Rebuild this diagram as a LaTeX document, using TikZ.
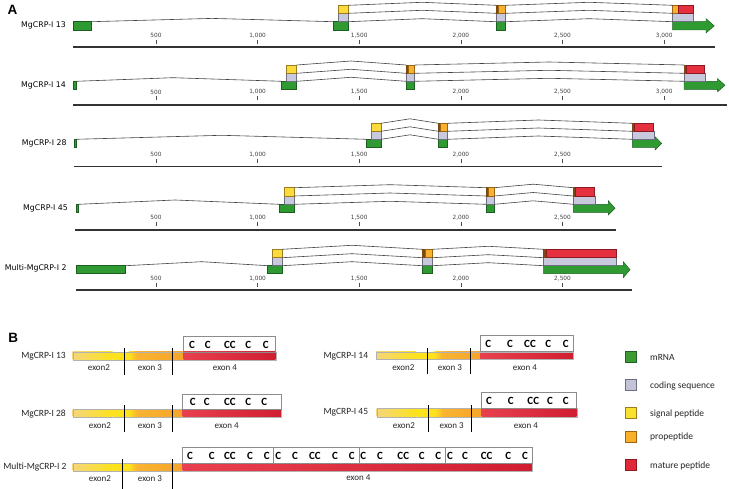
\documentclass[tikz,border=0pt]{standalone}
\usepackage{fontspec}
\setmainfont{DejaVu Sans}
\newfontfamily\calfont{Carlito}
\newfontfamily\libfont{Liberation Sans}
\usetikzlibrary{calc}
\definecolor{mgreen}{HTML}{2F9A32}
\definecolor{mgreenD}{HTML}{1B5E20}
\definecolor{cdsc}{HTML}{C9C9DD}
\definecolor{cdsD}{HTML}{6D6D80}
\definecolor{sigc}{HTML}{FBDB3C}
\definecolor{sigD}{HTML}{9C7C1C}
\definecolor{proc}{HTML}{F8B230}
\definecolor{proD}{HTML}{9A6410}
\definecolor{matc}{HTML}{E5303F}
\definecolor{matD}{HTML}{8C1A22}
\definecolor{slvc}{HTML}{7A4A12}
\definecolor{introc}{HTML}{444444}
\definecolor{gA}{HTML}{F4D57A}
\definecolor{gB}{HTML}{FDE21C}
\definecolor{oA}{HTML}{F9B431}
\definecolor{oB}{HTML}{F6A42A}
\definecolor{rA}{HTML}{E8404E}
\definecolor{rB}{HTML}{D01E30}
\definecolor{lgG}{HTML}{3C9C34}
\definecolor{lgGD}{HTML}{22602A}
\definecolor{lgC}{HTML}{C2C2D8}
\definecolor{lgY}{HTML}{F9E22E}
\definecolor{lgO}{HTML}{F8B028}
\definecolor{lgR}{HTML}{E02838}
\tikzset{
  bx/.style={draw, line width=0.45pt, inner sep=0pt, outer sep=0pt, anchor=north west},
  mrna/.style={bx, fill=mgreen, draw=mgreenD},
  cds/.style={bx, fill=cdsc, draw=cdsD},
  sig/.style={bx, fill=sigc, draw=sigD},
  pro/.style={bx, fill=proc, draw=proD},
  mat/.style={bx, fill=matc, draw=matD},
  slv/.style={bx, fill=slvc, draw=slvc},
  ghost/.style={bx, draw=none},
  mrnaA/.style={fill=mgreen, draw=mgreenD, line width=0.45pt},
  intron/.style={draw=introc, line width=0.6pt},
  ruler/.style={draw=black!80, line width=1.4pt},
  tick/.style={draw=black!70, line width=0.5pt},
  ticklab/.style={font=\fontsize{5.8}{6}\selectfont, text=black!75, inner sep=0pt},
  tracklab/.style={font=\fontsize{7.8}{9}\selectfont, anchor=east, inner sep=0pt},
  panellab/.style={font=\libfont\bfseries\fontsize{13.5}{14}\selectfont, inner sep=0pt},
  blab/.style={font=\calfont\fontsize{9.5}{10}\selectfont, anchor=east, inner sep=0pt, text=black!85},
  elab/.style={font=\calfont\fontsize{9}{10}\selectfont, inner sep=0pt, text=black!85},
  cc/.style={font=\calfont\bfseries\fontsize{11}{12}\selectfont, inner sep=0pt},
  cbox/.style={draw=black!45, line width=0.6pt},
  divl/.style={draw=black, line width=0.8pt},
  barline/.style={draw=black!30, line width=0.3pt},
  legsq/.style={minimum size=11pt, inner sep=0pt, line width=0.5pt},
  legtxt/.style={font=\calfont\fontsize{9.5}{10}\selectfont, anchor=west, inner sep=0pt, text=black!85},
}
\newcommand\mkbox[6]{\node[#2, minimum width=#5pt-#3pt, minimum height=#6pt-#4pt] (#1) at (#3,#4) {};}
\newcommand\mkarrow[8]{%
  \node[ghost, minimum width=#5pt-#2pt, minimum height=#4pt-#3pt] (#1) at (#2,#3) {};
  \draw[mrnaA] (#2,#3) -- (#5,#3) -- (#5,#6) -- (#8,{(#3+#4)/2}) -- (#5,#7) -- (#5,#4) -- (#2,#4) -- cycle;}
\newcommand\intr[4]{\draw[intron] let \p1=(#1.north east) in (\p1) -- (#3pt,\y1+#4pt) -- (#2.north west);}
\newcommand\mkruler[7]{%
  \coordinate (#1a) at (#2,#4); \coordinate (#1b) at (#3,#4);
  \draw[ruler] (#1a) -- (#1b);
  \foreach \bp/\lab in {500/500,1000/{1,000},1500/{1,500},2000/{2,000},2500/{2,500},3000/{3,000}}{%
    \ifnum\bp>#7\relax\else
      \pgfmathsetmacro\tx{54.3+\bp*0.2033}
      \draw[tick] (\tx,#5) -- (\tx,#5+4);
      \node[ticklab] (#1l\bp) at (\tx,#6) {\lab};
    \fi}}
\newcommand\pbbar[6]{%
  \shade[left color=gA, right color=gB] (#1,#5) rectangle ({#1+40},#6);
  \fill[gB] ({#1+40},#5) rectangle ({#2-4},#6);
  \shade[left color=gB, right color=oA] ({#2-4},#5) rectangle ({#2+4},#6);
  \shade[left color=oA, right color=oB] ({#2+4},#5) rectangle (#3,#6);
  \shade[left color=rA, right color=rB] (#3,#5) rectangle (#4,#6);
  \draw[barline] (#1,#5) rectangle (#4,#6);}
\begin{document}
\begin{tikzpicture}[x=1pt,y=-1pt]
\useasboundingbox (0,0) rectangle (729,489);
\fill[white] (0,0) rectangle (729,489);
\node[panellab] (pA) at (12.5,9.5) {A};
\node[panellab] (pB) at (13.3,338.3) {B};
% ---------- Track 1
\node[tracklab] (l1) at (66,25.5) {MgCRP-I 13};
\mkbox{a1g1}{mrna}{73.3}{21.7}{91.7}{30}
\mkbox{a1g2}{mrna}{333.3}{21.7}{348.3}{30}
\mkbox{a1c2}{cds}{338.3}{13.3}{348.3}{21.7}
\mkbox{a1t2}{sig}{338.3}{5.3}{348.3}{13.3}
\mkbox{a1g3}{mrna}{496}{21.7}{505.7}{30}
\mkbox{a1c3}{cds}{496}{13.3}{505.7}{21.7}
\mkbox{a1s3}{slv}{496}{5.3}{497.8}{13.3}
\mkbox{a1t3}{pro}{497.8}{5.3}{505.7}{13.3}
\mkarrow{a1g4}{672.7}{21.7}{30}{706}{18.7}{33}{714.3}
\mkbox{a1c4}{cds}{672.7}{13.3}{693.3}{21.7}
\mkbox{a1s4}{pro}{672.7}{5.3}{678.3}{13.3}
\mkbox{a1t4}{mat}{678.3}{5.3}{693.3}{13.3}
\intr{a1g1}{a1g2}{212}{3.3}
\intr{a1t2}{a1s3}{422}{3}
\intr{a1c2}{a1c3}{422}{3}
\intr{a1g2}{a1g3}{422}{3}
\intr{a1t3}{a1s4}{589}{3}
\intr{a1c3}{a1c4}{589}{3}
\intr{a1g3}{a1g4}{589}{3}
\mkruler{r1}{73}{715}{47}{40}{35.3}{3000}
% ---------- Track 2
\node[tracklab] (l2) at (66,85) {MgCRP-I 14};
\mkbox{a2g1}{mrna}{73.3}{81.3}{76.3}{89.3}
\mkbox{a2g2}{mrna}{281.7}{81.3}{296.7}{89.3}
\mkbox{a2c2}{cds}{286.7}{73.3}{296.7}{81.3}
\mkbox{a2t2}{sig}{286.7}{65}{296.7}{73.3}
\mkbox{a2g3}{mrna}{406}{81.3}{414.7}{89.3}
\mkbox{a2c3}{cds}{406}{73.3}{414.7}{81.3}
\mkbox{a2s3}{slv}{406}{65}{408.5}{73.3}
\mkbox{a2t3}{pro}{408.5}{65}{414.7}{73.3}
\mkarrow{a2g4}{684}{81.3}{89.3}{717.7}{78.7}{91.7}{725}
\mkbox{a2c4}{cds}{684}{73.3}{705.3}{81.3}
\mkbox{a2s4}{slv}{684}{65}{686.5}{73.3}
\mkbox{a2t4}{mat}{686.5}{65}{704.3}{73.3}
\intr{a2g1}{a2g2}{173}{3.6}
\intr{a2t2}{a2s3}{351}{4}
\intr{a2c2}{a2c3}{351}{4}
\intr{a2g2}{a2g3}{351}{4}
\intr{a2t3}{a2s4}{549}{3}
\intr{a2c3}{a2c4}{549}{3}
\intr{a2g3}{a2g4}{549}{3}
\mkruler{r2}{73}{726.7}{105}{96.3}{92}{3000}
% ---------- Track 3
\node[tracklab] (l3) at (66.7,143.3) {MgCRP-I 28};
\mkbox{a3g1}{mrna}{74}{139.3}{75.8}{147.3}
\mkbox{a3g2}{mrna}{366.7}{139.3}{381}{147.3}
\mkbox{a3c2}{cds}{371}{131.3}{381}{139.3}
\mkbox{a3t2}{sig}{371}{123.3}{381}{131.3}
\mkbox{a3g3}{mrna}{438.3}{139.3}{447.7}{147.3}
\mkbox{a3c3}{cds}{438.3}{131.3}{447.7}{139.3}
\mkbox{a3s3}{slv}{438.3}{123.3}{440.5}{131.3}
\mkbox{a3t3}{pro}{440.5}{123.3}{447.7}{131.3}
\mkarrow{a3g4}{632.3}{139.3}{147.3}{655}{136.7}{150}{661.7}
\mkbox{a3c4}{cds}{632.3}{131.3}{654.3}{139.3}
\mkbox{a3s4}{slv}{632.3}{123.3}{634.5}{131.3}
\mkbox{a3t4}{mat}{634.5}{123.3}{653.7}{131.3}
\intr{a3g1}{a3g2}{221.7}{4}
\intr{a3t2}{a3s3}{410}{4.5}
\intr{a3c2}{a3c3}{410}{4.5}
\intr{a3g2}{a3g3}{410}{4.5}
\intr{a3t3}{a3s4}{538.3}{3.3}
\intr{a3c3}{a3c4}{538.3}{3.3}
\intr{a3g3}{a3g4}{538.3}{3.3}
\mkruler{r3}{74}{662.3}{166.7}{159.3}{154.3}{2500}
% ---------- Track 4
\node[tracklab] (l4) at (68,208.3) {MgCRP-I 45};
\mkbox{a4g1}{mrna}{76}{204.3}{78.7}{212.3}
\mkbox{a4g2}{mrna}{279.3}{204.3}{294.3}{212.3}
\mkbox{a4c2}{cds}{284.3}{196}{294.3}{204.3}
\mkbox{a4t2}{sig}{284.3}{187.7}{294.3}{196}
\mkbox{a4g3}{mrna}{486}{204.3}{494.3}{212.3}
\mkbox{a4c3}{cds}{486}{196}{494.3}{204.3}
\mkbox{a4s3}{slv}{486}{187.7}{488.5}{196}
\mkbox{a4t3}{pro}{488.5}{187.7}{494.3}{196}
\mkarrow{a4g4}{573.3}{204.3}{212.3}{608.3}{200.7}{215}{615}
\mkbox{a4c4}{cds}{573.3}{196}{595}{204.3}
\mkbox{a4s4}{slv}{573.3}{187.7}{575.5}{196}
\mkbox{a4t4}{mat}{575.5}{187.7}{594.3}{196}
\intr{a4g1}{a4g2}{175}{4.3}
\intr{a4t2}{a4s3}{390}{3}
\intr{a4c2}{a4c3}{390}{3}
\intr{a4g2}{a4g3}{390}{3}
\intr{a4t3}{a4s4}{533.3}{3.5}
\intr{a4c3}{a4c4}{533.3}{3.5}
\intr{a4g3}{a4g4}{533.3}{3.5}
\mkruler{r4}{75}{615.7}{230}{221.7}{217.3}{2500}
% ---------- Track 5
\node[tracklab] (l5) at (66.7,268.3) {Multi-MgCRP-I 2};
\mkbox{a5g1}{mrna}{76}{265.7}{125.7}{273.7}
\mkbox{a5g2}{mrna}{267.7}{265.7}{282.3}{273.7}
\mkbox{a5c2}{cds}{272.7}{257.7}{282.3}{265.7}
\mkbox{a5t2}{sig}{272.7}{249.3}{282.3}{257.7}
\mkbox{a5g3}{mrna}{422.3}{265.7}{432.7}{273.7}
\mkbox{a5c3}{cds}{422.3}{257.7}{432.7}{265.7}
\mkbox{a5s3}{slv}{422.3}{249.3}{424.8}{257.7}
\mkbox{a5t3}{pro}{424.8}{249.3}{432.7}{257.7}
\mkarrow{a5g4}{543.7}{265.7}{273.7}{623.3}{261.7}{277.7}{630}
\mkbox{a5c4}{cds}{543.7}{257.7}{616.3}{265.7}
\mkbox{a5s4}{slv}{543.7}{249.3}{546}{257.7}
\mkbox{a5t4}{mat}{546}{249.3}{616}{257.7}
\intr{a5g1}{a5g2}{201.7}{4}
\intr{a5t2}{a5s3}{352}{4}
\intr{a5c2}{a5c3}{352}{4}
\intr{a5g2}{a5g3}{352}{4}
\intr{a5t3}{a5s4}{488.3}{3}
\intr{a5c3}{a5c4}{488.3}{3}
\intr{a5g3}{a5g4}{488.3}{3}
\mkruler{r5}{76}{631.7}{290}{283.3}{278.3}{2500}
% ---------- Panel B row 1
\pbbar{72.7}{133}{183.3}{275.7}{352}{360}
\draw[cbox] (183.3,336) rectangle (275.7,352);
\draw[divl] (124.3,348.3) -- (124.3,375);
\draw[divl] (172.7,348.3) -- (172.7,375);
\node[blab] (b1l) at (66,356) {MgCRP-I 13};
\node[elab] (b1e2) at (99,367.7) {exon2};
\node[elab] (b1e3) at (150,367.7) {exon 3};
\node[elab] (b1e4) at (225,367.7) {exon 4};
\foreach \cx/\ct [count=\i] in {192/C,207.7/C,230/CC,248.3/C,265.7/C}
  \node[cc] (b1c\i) at (\cx,344.5) {\ct};
% ---------- Panel B row 2
\pbbar{72.7}{133}{182.7}{281}{409}{416.7}
\draw[cbox] (182.7,394) rectangle (281,409);
\draw[divl] (124,405) -- (124,432.3);
\draw[divl] (172.7,405) -- (172.7,432.3);
\node[blab] (b2l) at (66,414) {MgCRP-I 28};
\node[elab] (b2e2) at (100,426) {exon2};
\node[elab] (b2e3) at (150,426) {exon 3};
\node[elab] (b2e4) at (226.7,426) {exon 4};
\foreach \cx/\ct [count=\i] in {192.7/C,206.7/C,230/CC,248.3/C,264.3/C}
  \node[cc] (b2c\i) at (\cx,401.5) {\ct};
% ---------- Panel B row 3
\pbbar{72.7}{133}{182.7}{532.3}{463.3}{470.7}
\draw[cbox] (182.7,447.3) rectangle (532.3,463.3);
\draw[cbox] (273.3,447.3) -- (273.3,463.3);
\draw[cbox] (359,447.3) -- (359,463.3);
\draw[cbox] (445,447.3) -- (445,463.3);
\draw[divl] (122.3,459.3) -- (122.3,489);
\draw[divl] (172.7,459.3) -- (172.7,489);
\node[blab] (b3l) at (66.7,466.7) {Multi-MgCRP-I 2};
\node[elab] (b3e2) at (100,478.5) {exon2};
\node[elab] (b3e3) at (150,478.5) {exon 3};
\node[elab] (b3e4) at (358.3,477.5) {exon 4};
\foreach \cx/\ct [count=\i] in {190/C,211.7/C,230/CC,250/C,266.7/C,278.3/C,295/C,315/CC,335/C,351.7/C,363.3/C,380/C,403.3/CC,421.7/C,438.3/C,450/C,465/C,486.7/CC,508.3/C,525/C}
  \node[cc] (b3c\i) at (\cx,456.3) {\ct};
% ---------- Panel B row 4 (right top)
\pbbar{376}{438.3}{480}{573.3}{351.7}{359.3}
\draw[cbox] (480,335) rectangle (573.3,351.7);
\draw[divl] (427.7,348.3) -- (427.7,374.3);
\draw[divl] (470,348.3) -- (470,374.3);
\node[blab] (b4l) at (368.3,356) {MgCRP-I 14};
\node[elab] (b4e2) at (403.3,367.3) {exon2};
\node[elab] (b4e3) at (450,367.3) {exon 3};
\node[elab] (b4e4) at (525,367.3) {exon 4};
\foreach \cx/\ct [count=\i] in {488.3/C,510/C,530/CC,548.3/C,565.7/C}
  \node[cc] (b4c\i) at (\cx,344) {\ct};
% ---------- Panel B row 5 (right middle)
\pbbar{376.7}{439}{481.7}{576.7}{408.3}{416.7}
\draw[cbox] (481.7,392.7) rectangle (576.7,408.3);
\draw[divl] (428.3,405) -- (428.3,431.7);
\draw[divl] (471,405) -- (471,431.7);
\node[blab] (b5l) at (368.3,412.7) {MgCRP-I 45};
\node[elab] (b5e2) at (404,426) {exon2};
\node[elab] (b5e3) at (451.7,426) {exon 3};
\node[elab] (b5e4) at (526,426) {exon 4};
\foreach \cx/\ct [count=\i] in {489/C,510.7/C,533.3/CC,550/C,565.7/C}
  \node[cc] (b5c\i) at (\cx,400.7) {\ct};
% ---------- Legend
\node[legsq, fill=lgG, draw=lgGD] (q1) at (630.5,356.3) {};
\node[legsq, fill=lgC, draw=cdsD] (q2) at (630.5,385) {};
\node[legsq, fill=lgY, draw=sigD] (q3) at (630.5,413) {};
\node[legsq, fill=lgO, draw=proD] (q4) at (630.5,437) {};
\node[legsq, fill=lgR, draw=matD] (q5) at (630.5,465) {};
\node[legtxt] (t1) at (650,357.7) {mRNA};
\node[legtxt] (t2) at (650,386) {coding sequence};
\node[legtxt] (t3) at (650,414.3) {signal peptide};
\node[legtxt] (t4) at (650,437.3) {propeptide};
\node[legtxt] (t5) at (650,465.7) {mature peptide};
\end{tikzpicture}
\end{document}
